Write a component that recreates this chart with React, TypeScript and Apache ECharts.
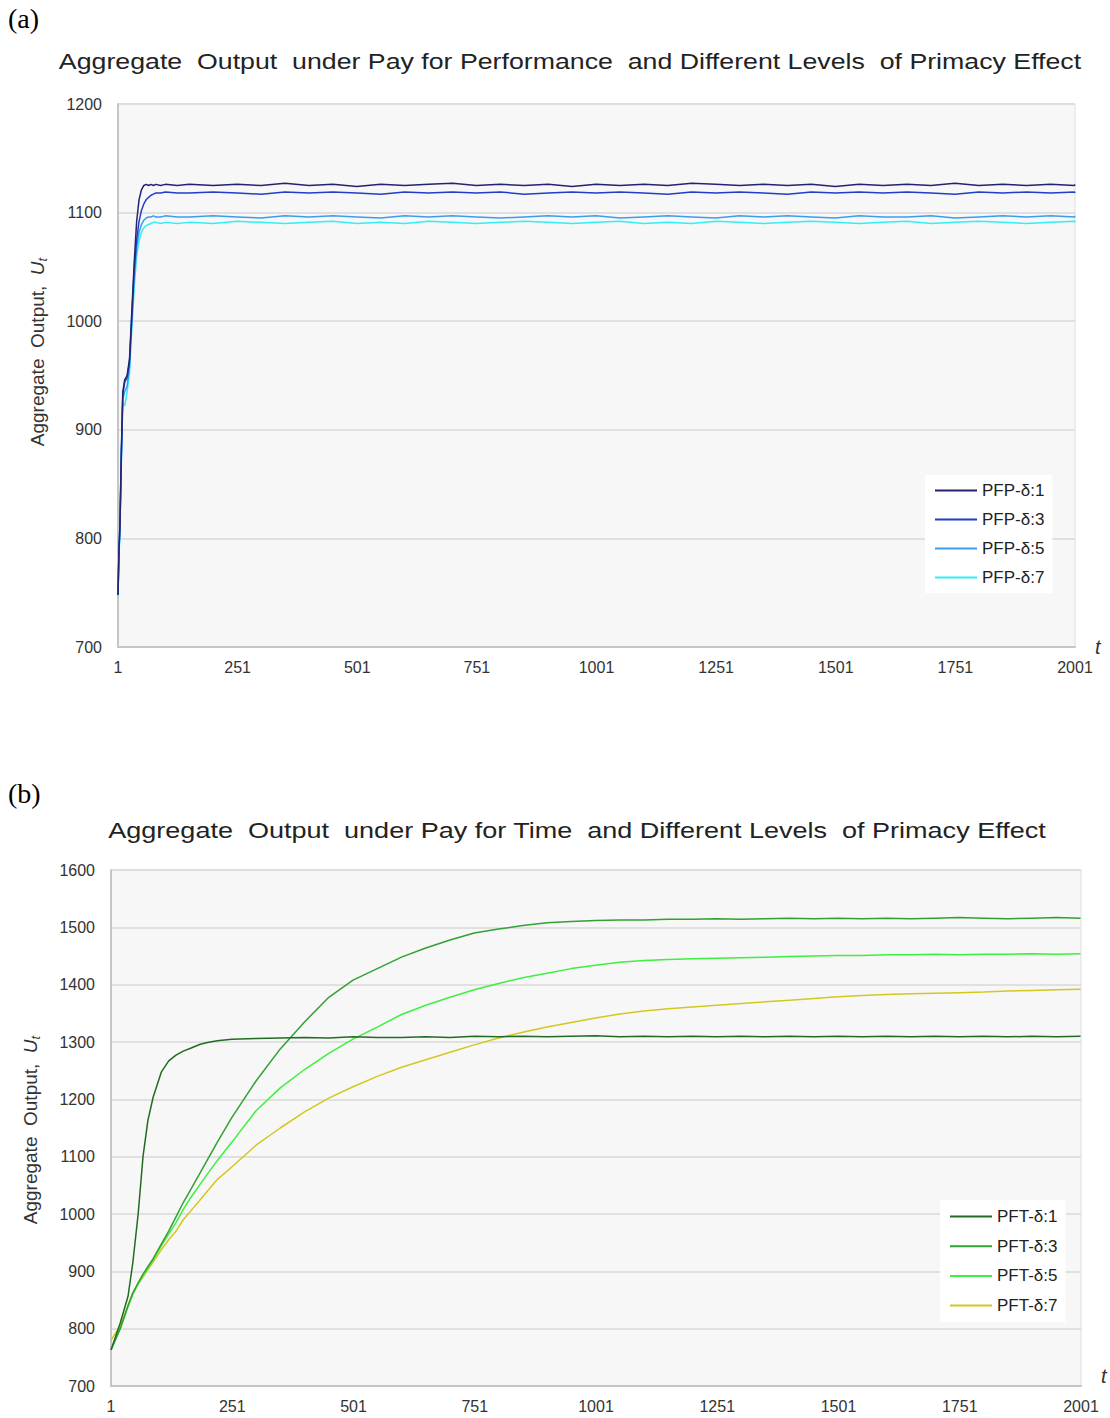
import React, { useEffect, useRef } from "react";
import * as echarts from "echarts";

// ---------- Chart (a): Pay for Performance ----------
const T_A = [
  1, 3, 5, 8, 11, 15, 20, 25, 30, 35, 40, 45, 50, 55, 60, 65, 70, 75, 80, 90, 100, 125,
  150, 200, 250, 300, 350, 400, 450, 500, 550, 600, 650, 700, 750, 800, 850, 900, 950, 1000,
  1050, 1100, 1150, 1200, 1250, 1300, 1350, 1400, 1450, 1500, 1550, 1600, 1650, 1700, 1750,
  1800, 1850, 1900, 1950, 2000, 2001,
];
const PFP_1 = [
  748, 790, 812, 880, 935, 946, 950, 965, 1010, 1055, 1092, 1112, 1121, 1125, 1126, 1125, 1126, 1125, 1126, 1125, 1126, 1125,
  1126, 1125, 1126, 1125, 1127, 1125, 1126, 1124, 1126, 1125,
  1126, 1127, 1125, 1126, 1125, 1126, 1124, 1126, 1125, 1126,
  1125, 1127, 1126, 1125, 1126, 1125, 1126, 1124, 1126, 1125,
  1126, 1125, 1127, 1125, 1126, 1125, 1126, 1125, 1126,
];
const PFP_3 = [
  748, 788, 810, 878, 932, 944, 948, 962, 1005, 1048, 1075, 1092, 1102, 1108, 1112, 1114, 1116, 1117, 1118, 1118, 1119, 1118,
  1118, 1119, 1118, 1117, 1119, 1118, 1119, 1118, 1117, 1119,
  1118, 1119, 1118, 1119, 1117, 1118, 1119, 1118, 1119, 1118,
  1117, 1119, 1118, 1119, 1118, 1117, 1119, 1118, 1119, 1118,
  1119, 1118, 1117, 1119, 1118, 1119, 1118, 1119, 1118,
];
const PFP_5 = [
  748, 786, 808, 875, 928, 935, 940, 958, 1000, 1040, 1068, 1082, 1089, 1093, 1095, 1096, 1096, 1097, 1096, 1096, 1097, 1096,
  1096, 1097, 1096, 1095, 1097, 1096, 1097, 1096, 1095, 1097,
  1096, 1097, 1096, 1095, 1096, 1097, 1096, 1097, 1095, 1096,
  1097, 1096, 1095, 1097, 1096, 1097, 1096, 1095, 1097, 1096,
  1096, 1097, 1095, 1096, 1097, 1096, 1097, 1096, 1097,
];
const PFP_7 = [
  746, 784, 805, 870, 925, 922, 935, 952, 995, 1032, 1060, 1074, 1082, 1086, 1088, 1089, 1090, 1091, 1091, 1090, 1091, 1090,
  1091, 1090, 1092, 1091, 1090, 1091, 1092, 1090, 1091, 1090,
  1092, 1091, 1090, 1091, 1092, 1091, 1090, 1091, 1092, 1090,
  1091, 1090, 1092, 1091, 1090, 1091, 1092, 1091, 1090, 1091,
  1092, 1090, 1091, 1092, 1091, 1090, 1091, 1092, 1091,
];

// ---------- Chart (b): Pay for Time ----------
const T_B = [
  1, 20, 36, 46, 57, 67, 77, 88, 105, 120, 135, 150, 165, 185, 200, 220, 250,
  300, 350, 400, 450, 500, 550, 600, 650, 700, 750, 800, 850, 900, 950, 1000,
  1050, 1100, 1150, 1200, 1250, 1300, 1350, 1400, 1450, 1500, 1550, 1600, 1650, 1700, 1750,
  1800, 1850, 1900, 1950, 2000, 2001,
];
const PFT_1 = [
  763, 810, 856, 915, 1000, 1100, 1163, 1204, 1248, 1267, 1277, 1284, 1289, 1296, 1299, 1302, 1305,
  1306, 1307, 1308, 1307, 1309, 1308, 1308, 1309, 1308, 1310,
  1309, 1310, 1309, 1310, 1311, 1309, 1310, 1309, 1310, 1309,
  1310, 1309, 1310, 1309, 1310, 1309, 1310, 1309, 1310, 1309,
  1310, 1309, 1310, 1309, 1310, 1310,
];
const PFT_3 = [
  763, 800, 840, 862, 880, 895, 908, 922, 948, 970, 995, 1020, 1042, 1072, 1095, 1125, 1168,
  1232, 1288, 1335, 1378, 1408, 1428, 1448, 1464, 1478, 1490,
  1497, 1503, 1508, 1510, 1512, 1513, 1513, 1514, 1514, 1515,
  1514, 1515, 1516, 1515, 1516, 1515, 1516, 1515, 1516, 1517,
  1516, 1515, 1516, 1517, 1516, 1516,
];
const PFT_5 = [
  763, 800, 838, 860, 878, 892, 905, 920, 945, 965, 985, 1008, 1028, 1052, 1070, 1093, 1125,
  1180, 1220, 1252, 1280, 1305, 1326, 1348, 1364, 1378, 1391,
  1402, 1412, 1420, 1428, 1434, 1439, 1442, 1444, 1445, 1446,
  1447, 1448, 1449, 1450, 1451, 1451, 1452, 1452, 1453, 1452,
  1453, 1453, 1454, 1453, 1454, 1454,
];
const PFT_7 = [
  780, 805, 840, 862, 878, 890, 903, 916, 938, 955, 970, 990, 1005, 1025, 1040, 1060, 1082,
  1120, 1150, 1178, 1202, 1222, 1240, 1256, 1269, 1282, 1295,
  1307, 1317, 1326, 1334, 1342, 1349, 1354, 1358, 1361, 1364,
  1367, 1370, 1373, 1376, 1379, 1381, 1383, 1384, 1385, 1386,
  1387, 1389, 1390, 1391, 1392, 1392,
];

const X_TICKS = [1, 251, 501, 751, 1001, 1251, 1501, 1751, 2001];
const Y_TICKS_A = [700, 800, 900, 1000, 1100, 1200];
const Y_TICKS_B = [700, 800, 900, 1000, 1100, 1200, 1300, 1400, 1500, 1600];

const NAMES_A = ["PFP-δ:1", "PFP-δ:3", "PFP-δ:5", "PFP-δ:7"];
const NAMES_B = ["PFT-δ:1", "PFT-δ:3", "PFT-δ:5", "PFT-δ:7"];
const COLORS_A = ["#24246e", "#1f3fc8", "#3b9cf2", "#2ef0f5"];
const COLORS_B = ["#236b23", "#33a033", "#3df03d", "#d2c81e"];

const FONT = "'Liberation Sans', Arial, sans-serif";
const SERIF = "'Liberation Serif', 'Times New Roman', serif";

function pairs(t: number[], v: number[]) {
  return t.map((x, i) => [x, v[i]]);
}

export default function App() {
  const ref = useRef<HTMLDivElement>(null);
  useEffect(() => {
    document.body.style.margin = "0";
    const chart = echarts.init(ref.current!, undefined, { renderer: "svg" });

    const plain = (v: number) => String(v);

    const yAxisCommon = (ticks: number[], gridIndex: number) => ({
      type: "value",
      gridIndex,
      min: ticks[0],
      max: ticks[ticks.length - 1],
      interval: 100,
      axisLine: { show: true, lineStyle: { color: "#c6c6c6", width: 2 } },
      axisTick: { show: false },
      axisLabel: { fontSize: 16, color: "#333", fontFamily: FONT, margin: 16, formatter: plain },
      splitLine: { show: true, lineStyle: { color: "#d9d9d9", width: 1.5 } },
    });
    const xAxisCommon = (gridIndex: number, vAlign: string) => ({
      type: "value",
      gridIndex,
      min: X_TICKS[0],
      max: X_TICKS[X_TICKS.length - 1],
      axisLine: { show: true, lineStyle: { color: "#c6c6c6", width: 2 } },
      axisTick: { show: false },
      axisLabel: { fontSize: 16, color: "#333", fontFamily: FONT, margin: 12, customValues: X_TICKS, formatter: plain },
      splitLine: { show: false },
      name: "t",
      nameLocation: "end",
      nameGap: 20,
      nameTextStyle: { fontSize: 20, fontStyle: "italic", color: "#333", fontFamily: FONT, verticalAlign: vAlign },
    });

    const seriesA = [PFP_1, PFP_3, PFP_5, PFP_7].map((v, i) => ({
      name: NAMES_A[i],
      type: "line",
      xAxisIndex: 0,
      yAxisIndex: 0,
      data: pairs(T_A, v),
      symbol: "none",
      lineStyle: { width: 1.5, color: COLORS_A[i] },
      itemStyle: { color: COLORS_A[i] },
      z: 10 - i,
    }));
    const seriesB = [PFT_1, PFT_3, PFT_5, PFT_7].map((v, i) => ({
      name: NAMES_B[i],
      type: "line",
      xAxisIndex: 1,
      yAxisIndex: 1,
      data: pairs(T_B, v),
      symbol: "none",
      lineStyle: { width: 1.5, color: COLORS_B[i] },
      itemStyle: { color: COLORS_B[i] },
      z: 10 - i,
    }));

    const legendCommon = {
      orient: "vertical",
      backgroundColor: "#ffffff",
      icon: "rect",
      itemWidth: 42,
      itemHeight: 2,
      itemGap: 12,
      textStyle: { fontSize: 17, color: "#222", fontFamily: FONT },
      selectedMode: false,
    };

    const yTitle = (x: number, y: number) => ({
      type: "text",
      x,
      y,
      rotation: Math.PI / 2,
      style: {
        text: "Aggregate  Output,  {i|U}{s|t}",
        fontSize: 19,
        fontFamily: FONT,
        fill: "#333",
        textAlign: "center",
        textVerticalAlign: "middle",
        rich: {
          i: { fontSize: 19, fontStyle: "italic", fontFamily: FONT, fill: "#333" },
          s: { fontSize: 13, fontStyle: "italic", fontFamily: FONT, fill: "#333", padding: [10, 0, 0, 0] },
        },
      },
    });

    chart.setOption({
      animation: false,
      grid: [
        { left: 118, top: 104, width: 957, height: 543, show: true, backgroundColor: "#f7f7f7", borderColor: "#dedede", borderWidth: 1 },
        { left: 111, top: 870, width: 970, height: 516, show: true, backgroundColor: "#f7f7f7", borderColor: "#dedede", borderWidth: 1 },
      ],
      xAxis: [xAxisCommon(0, "middle"), xAxisCommon(1, "bottom")],
      yAxis: [yAxisCommon(Y_TICKS_A, 0), yAxisCommon(Y_TICKS_B, 1)],
      legend: [
        { ...legendCommon, data: NAMES_A, left: 925, top: 475, padding: [7, 8, 7, 10] },
        { ...legendCommon, data: NAMES_B, left: 940, top: 1200, padding: [8, 8, 8, 10], itemGap: 12.7 },
      ],
      graphic: [
        { type: "text", x: 8, y: 18, style: { text: "(a)", fontSize: 28, fontFamily: SERIF, fill: "#000", textVerticalAlign: "middle" } },
        { type: "text", x: 8, y: 793, style: { text: "(b)", fontSize: 28, fontFamily: SERIF, fill: "#000", textVerticalAlign: "middle" } },
        {
          type: "text", x: 570, y: 61, scaleX: 1.215,
          style: { text: "Aggregate  Output  under Pay for Performance  and Different Levels  of Primacy Effect", fontSize: 22, fontFamily: FONT, fill: "#222", textAlign: "center", textVerticalAlign: "middle" },
        },
        {
          type: "text", x: 577, y: 830, scaleX: 1.229,
          style: { text: "Aggregate  Output  under Pay for Time  and Different Levels  of Primacy Effect", fontSize: 22, fontFamily: FONT, fill: "#222", textAlign: "center", textVerticalAlign: "middle" },
        },
        yTitle(37, 352),
        yTitle(30, 1130),
      ],
      series: [...seriesA, ...seriesB],
    });
    return () => chart.dispose();
  }, []);
  return <div ref={ref} style={{ width: 1110, height: 1418 }} />;
}
